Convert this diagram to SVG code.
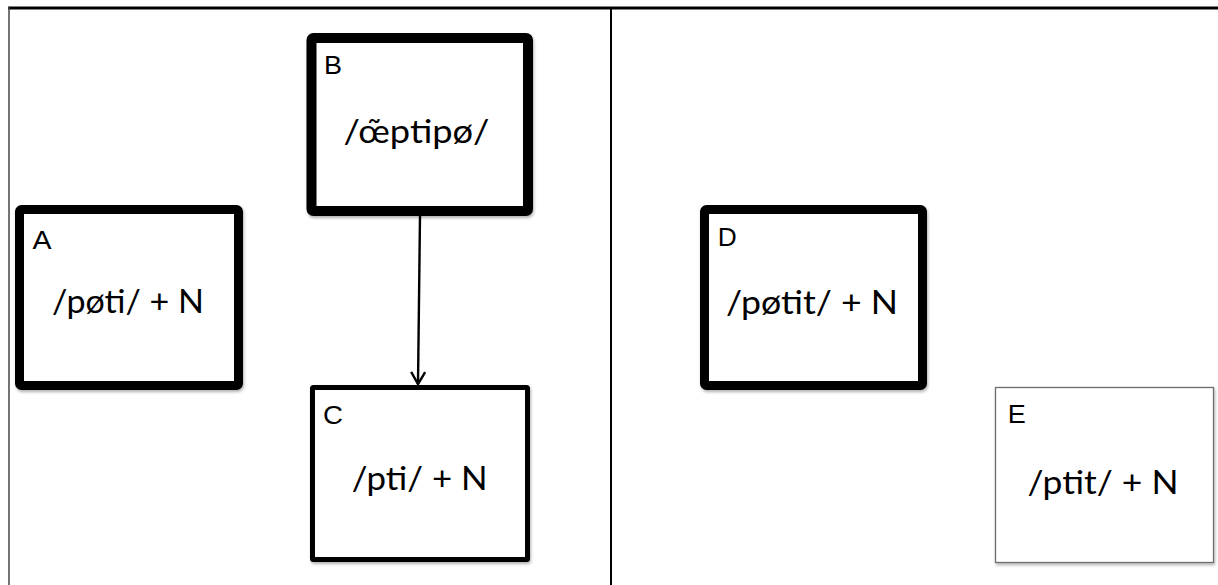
<svg xmlns="http://www.w3.org/2000/svg" width="1218" height="585" viewBox="0 0 1218 585">
  <defs>
    <filter id="shadow" x="-5%" y="-5%" width="115%" height="115%">
      <feDropShadow dx="1" dy="2" stdDeviation="1.5" flood-color="#000" flood-opacity="0.3"/>
    </filter>
    <marker id="arrow" markerWidth="16" markerHeight="18" refX="13" refY="8" orient="auto" markerUnits="userSpaceOnUse" viewBox="0 0 16 16">
      <path d="M1,1 L13,8 L1,15" fill="none" stroke="#000" stroke-width="2.4"/>
    </marker>
  </defs>
  <style>
    .box { fill: #fff; stroke: #000; filter: url(#shadow); }
    .thick { stroke-width: 9; }
    .medium { stroke-width: 5; }
    .thin { stroke: #6e6e6e; stroke-width: 1.3; }
    .lbl { font-family: "Liberation Sans", Arial, sans-serif; font-size: 26px; fill: #000; }
    .main { font-family: Lato, "Open Sans", sans-serif; font-size: 32px; fill: #000; text-anchor: middle; }
    .frame { stroke: #000; fill: none; }
  </style>
  <rect width="1218" height="585" fill="#fff"/>
  <g id="frame">
    <line class="frame" x1="8" y1="8" x2="1218" y2="8" stroke-width="3"/>
    <line class="frame" x1="9" y1="7" x2="9" y2="585" stroke-width="1.5" style="stroke:#444"/>
    <line class="frame" x1="611" y1="8" x2="611" y2="585" stroke-width="2"/>
  </g>
  <g id="connectors">
    <line x1="420" y1="216" x2="418" y2="384" stroke="#000" stroke-width="2.4" marker-end="url(#arrow)"/>
  </g>
  <g id="node-A">
    <rect class="box thick" x="19.5" y="209.5" width="219" height="176" rx="2"/>
    <text class="lbl" x="32.5" y="248.5" textLength="19" lengthAdjust="spacingAndGlyphs">A</text>
    <text class="main" x="128" y="313" textLength="152" lengthAdjust="spacingAndGlyphs">/pøti/ + N</text>
  </g>
  <g id="node-B">
    <rect class="box" x="311.5" y="38" width="216.5" height="173" rx="2" stroke-width="10"/>
    <text class="lbl" x="324" y="74" textLength="18" lengthAdjust="spacingAndGlyphs">B</text>
    <text class="main" x="416.5" y="143" textLength="146" lengthAdjust="spacingAndGlyphs">/œ̃ptipø/</text>
  </g>
  <g id="node-C">
    <rect class="box medium" x="312.5" y="387.5" width="215" height="172" rx="1"/>
    <text class="lbl" x="323" y="423.5" textLength="20" lengthAdjust="spacingAndGlyphs">C</text>
    <text class="main" x="419.7" y="490" textLength="136" lengthAdjust="spacingAndGlyphs">/pti/ + N</text>
  </g>
  <g id="node-D">
    <rect class="box thick" x="704.5" y="209.5" width="218" height="176" rx="2"/>
    <text class="lbl" x="717.7" y="246" textLength="19" lengthAdjust="spacingAndGlyphs">D</text>
    <text class="main" x="812" y="314" textLength="172" lengthAdjust="spacingAndGlyphs">/pøtit/ + N</text>
  </g>
  <g id="node-E">
    <rect class="box thin" x="995.5" y="387.5" width="218" height="175"/>
    <text class="lbl" x="1007.7" y="423" textLength="18" lengthAdjust="spacingAndGlyphs">E</text>
    <text class="main" x="1103" y="494" textLength="151" lengthAdjust="spacingAndGlyphs">/ptit/ + N</text>
  </g>
</svg>
